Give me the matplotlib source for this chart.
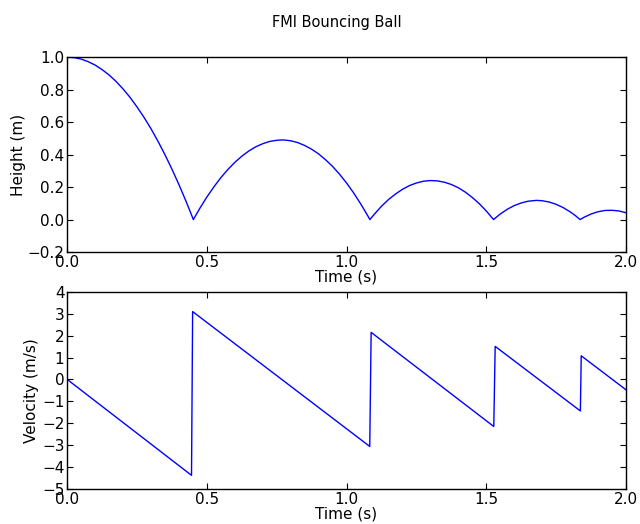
"""FMI bouncing ball: height and velocity over time."""
import matplotlib
matplotlib.use("Agg")
import matplotlib.pyplot as plt

# height samples (m), including bounce cusps and apexes
time_h = [0.0, 0.025, 0.05, 0.075, 0.10, 0.125, 0.15, 0.175, 0.20, 0.225,
          0.25, 0.275, 0.30, 0.325, 0.35, 0.375, 0.40, 0.425, 0.45, 0.4515,
          0.475, 0.50, 0.525, 0.55, 0.575, 0.60, 0.625, 0.65, 0.675, 0.70,
          0.725, 0.75, 0.7675, 0.775, 0.80, 0.825, 0.85, 0.875, 0.90, 0.925,
          0.95, 0.975, 1.00, 1.025, 1.05, 1.075, 1.0835,
          1.10, 1.125, 1.15, 1.175, 1.20, 1.225, 1.25, 1.275, 1.30, 1.325,
          1.35, 1.375, 1.40, 1.425, 1.45, 1.475, 1.50, 1.51, 1.526,
          1.55, 1.575, 1.60, 1.625, 1.65, 1.68, 1.70, 1.725, 1.75, 1.775,
          1.80, 1.82, 1.836,
          1.85, 1.875, 1.90, 1.925, 1.95, 1.975, 2.00]
height = [1.0, 0.997, 0.988, 0.972, 0.951, 0.923, 0.890, 0.850, 0.804, 0.752,
          0.693, 0.629, 0.559, 0.482, 0.399, 0.310, 0.215, 0.114, 0.007, 0.0,
          0.070, 0.139, 0.201, 0.258, 0.308, 0.352, 0.390, 0.422, 0.448, 0.467,
          0.481, 0.488, 0.490, 0.490, 0.485, 0.474, 0.456, 0.433, 0.404, 0.368,
          0.327, 0.279, 0.225, 0.165, 0.098, 0.026, 0.0,
          0.034, 0.082, 0.123, 0.157, 0.186, 0.209, 0.225, 0.236, 0.240, 0.238,
          0.230, 0.216, 0.196, 0.169, 0.136, 0.098, 0.053, 0.033, 0.0,
          0.034, 0.063, 0.086, 0.102, 0.113, 0.118, 0.116, 0.108, 0.094, 0.074,
          0.048, 0.023, 0.0,
          0.014, 0.034, 0.048, 0.056, 0.057, 0.053, 0.042]

# velocity (m/s) is piecewise linear: corners
time_v = [0.0, 0.445, 0.449, 1.083, 1.088, 1.527, 1.532, 1.837, 1.840, 2.0]
velocity = [0.0, -4.38, 3.10, -3.06, 2.15, -2.15, 1.51, -1.44, 1.08, -0.47]

plt.rcParams.update({
    "font.size": 11,
    "xtick.direction": "in",
    "ytick.direction": "in",
    "xtick.top": True,
    "ytick.right": True,
    "xtick.major.size": 4,
    "ytick.major.size": 4,
    "xtick.major.pad": 2,
    "ytick.major.pad": 2,
    "axes.linewidth": 1.0,
})

fig = plt.figure(figsize=(6.4, 5.24), dpi=100)
ax1 = fig.add_axes([0.105, 0.519, 0.873, 0.372])
ax2 = fig.add_axes([0.105, 0.067, 0.873, 0.376])

ax1.plot(time_h, height, color="blue", lw=1)
ax1.set_xlim(0, 2)
ax1.set_ylim(-0.2, 1.0)
ax1.set_xticks([0.0, 0.5, 1.0, 1.5, 2.0])
ax1.set_ylabel("Height (m)", labelpad=1)
ax1.set_xlabel("Time (s)", labelpad=0)

ax2.plot(time_v, velocity, color="blue", lw=1)
ax2.set_xlim(0, 2)
ax2.set_ylim(-5, 4)
ax2.set_xticks([0.0, 0.5, 1.0, 1.5, 2.0])
ax2.set_yticks(range(-5, 5))
ax2.set_ylabel("Velocity (m/s)", labelpad=2)
ax2.set_xlabel("Time (s)", labelpad=0)

# the saved figure was cropped, so the title sits a bit right of centre
fig.suptitle("FMI Bouncing Ball", fontsize=10.5, x=0.527, y=0.972)

fig.savefig("out.png", dpi=100)
